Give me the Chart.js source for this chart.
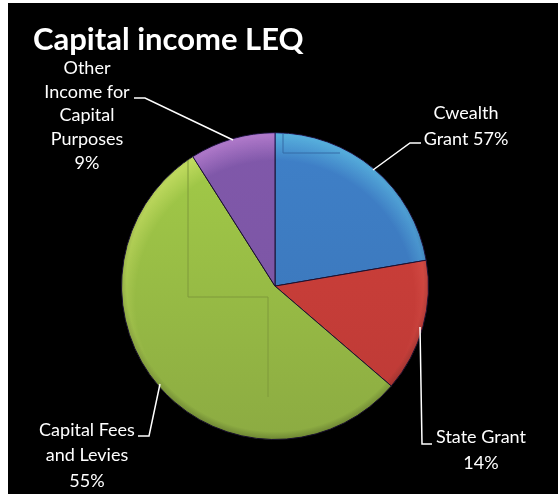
<!DOCTYPE html>
<html>
<head>
<meta charset="utf-8">
<title>Capital income LEQ</title>
<script src="https://cdn.jsdelivr.net/npm/chart.js@4"></script>
<style>
html, body { margin: 0; padding: 0; background: #fff; overflow: hidden; }
#pie { position: absolute; left: 8px; top: 3px; background: #000; }
</style>
</head>
<body>
<canvas id="pie" width="550" height="491"></canvas>
<script>
// chart data
var categories = ["Cwealth Grant", "State Grant", "Capital Fees and Levies", "Other Income for Capital Purposes"];
var values = [22.3, 14, 54.7, 9];
var shownLabels = [
  ["Cwealth", "Grant 57%"],
  ["State Grant", "14%"],
  ["Capital Fees", "and Levies", "55%"],
  ["Other", "Income for", "Capital", "Purposes", "9%"]
];

// styles
var topColors = ["#3f80c8", "#d0403a", "#a3cc48", "#8058aa"];
var bottomColors = ["#3a74b6", "#bc3a36", "#8cab42", "#7a55a2"];

// where the callouts sit, canvas px
var labelSpots = [
  {x: 458, y: 110, step: 26, line: [[413, 140], [402, 140], [365, 167]]},
  {x: 473, y: 434, step: 26, line: [[424, 441], [414, 441], [412, 324]]},
  {x: 79, y: 427, step: 25.5, line: [[130, 433], [141, 433], [152, 381]]},
  {x: 79, y: 65, step: 23.7, line: [[126, 95], [137, 95], [225, 137]]}
];
// faint scan lines left in the picture
var scanLines = [
  {color: "#7f9a3a", pts: [[180, 153], [180, 294], [260, 294], [260, 394]]},
  {color: "#356aa6", pts: [[275, 130], [275, 150], [332, 150]]}
];

function sliceFill(c) {
  var area = c.chart.chartArea;
  if (!area) return topColors[c.dataIndex];
  var g = c.chart.ctx.createLinearGradient(0, area.top, 0, area.bottom);
  g.addColorStop(0, topColors[c.dataIndex]);
  g.addColorStop(1, bottomColors[c.dataIndex]);
  return g;
}

function polyline(ctx, pts) {
  ctx.beginPath();
  ctx.moveTo(pts[0][0], pts[0][1]);
  for (var i = 1; i < pts.length; i++) ctx.lineTo(pts[i][0], pts[i][1]);
  ctx.stroke();
}

var calloutPlugin = {
  id: "callouts",
  afterDatasetsDraw: function (chart) {
    var ctx = chart.ctx;
    var arc = chart.getDatasetMeta(0).data[0];
    var cx = arc.x, cy = arc.y, r = arc.outerRadius;

    // rim light on top, slight shade underneath
    ctx.save();
    ctx.beginPath();
    ctx.arc(cx, cy, r, 0, Math.PI * 2);
    ctx.clip();
    ctx.globalCompositeOperation = "overlay";
    var light = ctx.createRadialGradient(cx, cy + 14, r - 14, cx, cy + 14, r + 14);
    light.addColorStop(0, "rgba(255,255,255,0)");
    light.addColorStop(1, "rgba(255,255,255,0.4)");
    ctx.fillStyle = light;
    ctx.fillRect(cx - r, cy - r, r * 2, r * 2);
    ctx.globalCompositeOperation = "source-over";
    var dark = ctx.createRadialGradient(cx, cy - 3, r - 5, cx, cy - 3, r + 3);
    dark.addColorStop(0, "rgba(0,0,0,0)");
    dark.addColorStop(1, "rgba(0,0,0,0.22)");
    ctx.fillStyle = dark;
    ctx.fillRect(cx - r, cy - r, r * 2, r * 2);
    ctx.lineWidth = 1;
    scanLines.forEach(function (s) {
      ctx.strokeStyle = s.color;
      polyline(ctx, s.pts);
    });
    ctx.restore();

    // labels and leader lines
    ctx.save();
    ctx.fillStyle = "#fff";
    ctx.strokeStyle = "#fff";
    ctx.lineWidth = 1.5;
    ctx.font = "18px Lato";
    ctx.textAlign = "center";
    ctx.textBaseline = "middle";
    shownLabels.forEach(function (lines, i) {
      var spot = labelSpots[i];
      lines.forEach(function (t, j) {
        ctx.fillText(t, spot.x, spot.y + j * spot.step);
      });
      polyline(ctx, spot.line);
    });
    ctx.restore();
  }
};

new Chart("pie", {
  type: "pie",
  data: {
    labels: categories,
    datasets: [{
      data: values,
      backgroundColor: sliceFill,
      borderColor: "#1a1030",
      borderWidth: 1
    }]
  },
  options: {
    responsive: false,
    animation: false,
    layout: {padding: {left: 25, right: 41, top: 0, bottom: 54}},
    plugins: {
      legend: {display: false},
      tooltip: {enabled: false},
      title: {
        display: true,
        text: "Capital income LEQ",
        align: "start",
        color: "#fff",
        font: {family: "Lato", size: 31, weight: "bold"},
        padding: {top: 18, bottom: 74}
      }
    }
  },
  plugins: [calloutPlugin]
});
</script>
</body>
</html>
